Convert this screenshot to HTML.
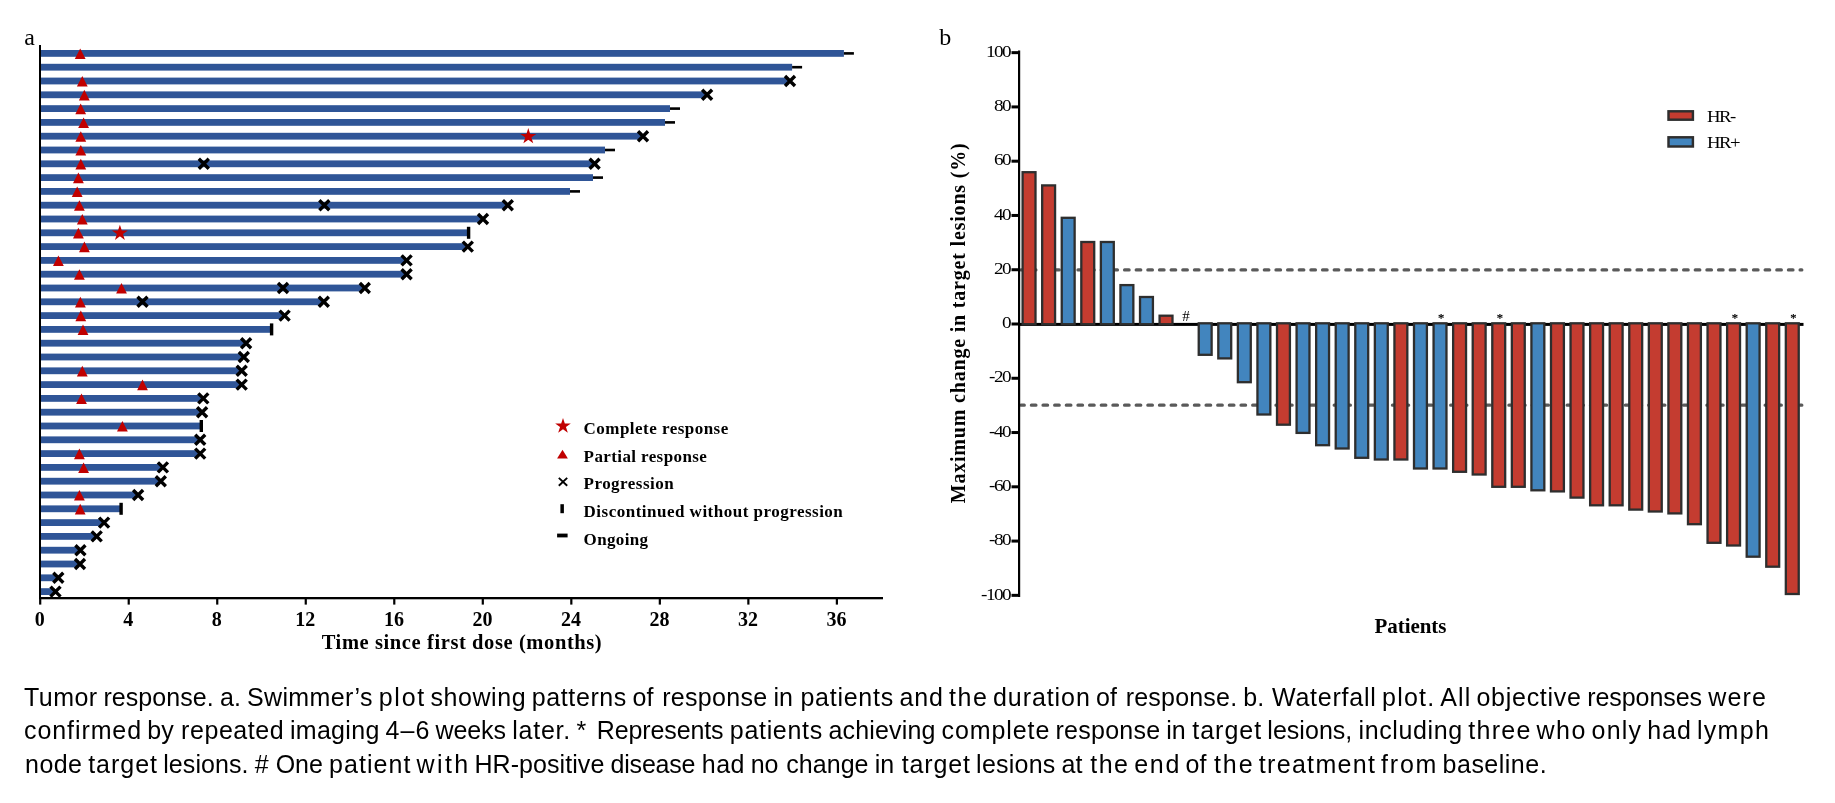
<!DOCTYPE html><html><head><meta charset="utf-8"><title>Tumor response</title><style>html,body{margin:0;padding:0;background:#fff}svg text{font-family:"Liberation Serif",serif}#cap text{font-family:"Liberation Sans",sans-serif}</style></head><body>
<svg width="1835" height="803" viewBox="0 0 1835 803" style="display:block;will-change:transform">
<g id="swim">
<rect x="40" y="50.00" width="803.90" height="6.8" fill="#2f5597"/>
<rect x="40" y="63.80" width="752.10" height="6.8" fill="#2f5597"/>
<rect x="40" y="77.60" width="749.00" height="6.8" fill="#2f5597"/>
<rect x="40" y="91.40" width="666.00" height="6.8" fill="#2f5597"/>
<rect x="40" y="105.20" width="630.00" height="6.8" fill="#2f5597"/>
<rect x="40" y="119.00" width="625.00" height="6.8" fill="#2f5597"/>
<rect x="40" y="132.80" width="602.00" height="6.8" fill="#2f5597"/>
<rect x="40" y="146.60" width="565.00" height="6.8" fill="#2f5597"/>
<rect x="40" y="160.40" width="553.50" height="6.8" fill="#2f5597"/>
<rect x="40" y="174.20" width="553.00" height="6.8" fill="#2f5597"/>
<rect x="40" y="188.00" width="530.00" height="6.8" fill="#2f5597"/>
<rect x="40" y="201.80" width="466.50" height="6.8" fill="#2f5597"/>
<rect x="40" y="215.60" width="442.00" height="6.8" fill="#2f5597"/>
<rect x="40" y="229.40" width="427.50" height="6.8" fill="#2f5597"/>
<rect x="40" y="243.20" width="426.50" height="6.8" fill="#2f5597"/>
<rect x="40" y="257.00" width="365.50" height="6.8" fill="#2f5597"/>
<rect x="40" y="270.80" width="365.50" height="6.8" fill="#2f5597"/>
<rect x="40" y="284.60" width="323.50" height="6.8" fill="#2f5597"/>
<rect x="40" y="298.40" width="282.50" height="6.8" fill="#2f5597"/>
<rect x="40" y="312.20" width="243.50" height="6.8" fill="#2f5597"/>
<rect x="40" y="326.00" width="230.50" height="6.8" fill="#2f5597"/>
<rect x="40" y="339.80" width="205.00" height="6.8" fill="#2f5597"/>
<rect x="40" y="353.60" width="202.50" height="6.8" fill="#2f5597"/>
<rect x="40" y="367.40" width="200.50" height="6.8" fill="#2f5597"/>
<rect x="40" y="381.20" width="200.50" height="6.8" fill="#2f5597"/>
<rect x="40" y="395.00" width="162.00" height="6.8" fill="#2f5597"/>
<rect x="40" y="408.80" width="161.00" height="6.8" fill="#2f5597"/>
<rect x="40" y="422.60" width="160.30" height="6.8" fill="#2f5597"/>
<rect x="40" y="436.40" width="159.00" height="6.8" fill="#2f5597"/>
<rect x="40" y="450.20" width="159.00" height="6.8" fill="#2f5597"/>
<rect x="40" y="464.00" width="121.80" height="6.8" fill="#2f5597"/>
<rect x="40" y="477.80" width="119.70" height="6.8" fill="#2f5597"/>
<rect x="40" y="491.60" width="97.00" height="6.8" fill="#2f5597"/>
<rect x="40" y="505.40" width="80.00" height="6.8" fill="#2f5597"/>
<rect x="40" y="519.20" width="63.00" height="6.8" fill="#2f5597"/>
<rect x="40" y="533.00" width="55.60" height="6.8" fill="#2f5597"/>
<rect x="40" y="546.80" width="39.30" height="6.8" fill="#2f5597"/>
<rect x="40" y="560.60" width="39.00" height="6.8" fill="#2f5597"/>
<rect x="40" y="574.40" width="17.20" height="6.8" fill="#2f5597"/>
<rect x="40" y="588.20" width="14.40" height="6.8" fill="#2f5597"/>
<rect x="843.90" y="52.10" width="10" height="2.6" fill="#000"/>
<path d="M74.80 59.00L80.20 48.40L85.60 59.00Z" fill="#c00000"/>
<rect x="792.10" y="65.90" width="10" height="2.6" fill="#000"/>
<path d="M76.90 86.60L82.30 76.00L87.70 86.60Z" fill="#c00000"/>
<path d="M785.00 76.00L795.00 86.00M785.00 86.00L795.00 76.00" stroke="#000" stroke-width="3.4" fill="none"/>
<path d="M78.90 100.40L84.30 89.80L89.70 100.40Z" fill="#c00000"/>
<path d="M702.10 89.80L712.10 99.80M702.10 99.80L712.10 89.80" stroke="#000" stroke-width="3.4" fill="none"/>
<rect x="670.00" y="107.30" width="10" height="2.6" fill="#000"/>
<path d="M75.30 114.20L80.70 103.60L86.10 114.20Z" fill="#c00000"/>
<rect x="665.00" y="121.10" width="10" height="2.6" fill="#000"/>
<path d="M78.20 128.00L83.60 117.40L89.00 128.00Z" fill="#c00000"/>
<path d="M75.40 141.80L80.80 131.20L86.20 141.80Z" fill="#c00000"/>
<polygon points="528.30,128.10 530.18,133.91 536.29,133.90 531.34,137.49 533.24,143.30 528.30,139.70 523.36,143.30 525.26,137.49 520.31,133.90 526.42,133.91" fill="#c00000"/>
<path d="M638.00 131.20L648.00 141.20M638.00 141.20L648.00 131.20" stroke="#000" stroke-width="3.4" fill="none"/>
<rect x="605.00" y="148.70" width="10" height="2.6" fill="#000"/>
<path d="M75.40 155.60L80.80 145.00L86.20 155.60Z" fill="#c00000"/>
<path d="M75.40 169.40L80.80 158.80L86.20 169.40Z" fill="#c00000"/>
<path d="M198.80 158.80L208.80 168.80M198.80 168.80L208.80 158.80" stroke="#000" stroke-width="3.4" fill="none"/>
<path d="M589.60 158.80L599.60 168.80M589.60 168.80L599.60 158.80" stroke="#000" stroke-width="3.4" fill="none"/>
<rect x="593.00" y="176.30" width="10" height="2.6" fill="#000"/>
<path d="M73.00 183.20L78.40 172.60L83.80 183.20Z" fill="#c00000"/>
<rect x="570.00" y="190.10" width="10" height="2.6" fill="#000"/>
<path d="M71.80 197.00L77.20 186.40L82.60 197.00Z" fill="#c00000"/>
<path d="M74.00 210.80L79.40 200.20L84.80 210.80Z" fill="#c00000"/>
<path d="M319.30 200.20L329.30 210.20M319.30 210.20L329.30 200.20" stroke="#000" stroke-width="3.4" fill="none"/>
<path d="M502.80 200.20L512.80 210.20M502.80 210.20L512.80 200.20" stroke="#000" stroke-width="3.4" fill="none"/>
<path d="M76.90 224.60L82.30 214.00L87.70 224.60Z" fill="#c00000"/>
<path d="M478.00 214.00L488.00 224.00M478.00 224.00L488.00 214.00" stroke="#000" stroke-width="3.4" fill="none"/>
<rect x="466.90" y="226.80" width="3.4" height="12" fill="#000"/>
<path d="M73.00 238.40L78.40 227.80L83.80 238.40Z" fill="#c00000"/>
<polygon points="119.90,224.70 121.78,230.51 127.89,230.50 122.94,234.09 124.84,239.90 119.90,236.30 114.96,239.90 116.86,234.09 111.91,230.50 118.02,230.51" fill="#c00000"/>
<path d="M79.00 252.20L84.40 241.60L89.80 252.20Z" fill="#c00000"/>
<path d="M462.80 241.60L472.80 251.60M462.80 251.60L472.80 241.60" stroke="#000" stroke-width="3.4" fill="none"/>
<path d="M53.00 266.00L58.40 255.40L63.80 266.00Z" fill="#c00000"/>
<path d="M401.60 255.40L411.60 265.40M401.60 265.40L411.60 255.40" stroke="#000" stroke-width="3.4" fill="none"/>
<path d="M74.00 279.80L79.40 269.20L84.80 279.80Z" fill="#c00000"/>
<path d="M401.60 269.20L411.60 279.20M401.60 279.20L411.60 269.20" stroke="#000" stroke-width="3.4" fill="none"/>
<path d="M116.10 293.60L121.50 283.00L126.90 293.60Z" fill="#c00000"/>
<path d="M278.00 283.00L288.00 293.00M278.00 293.00L288.00 283.00" stroke="#000" stroke-width="3.4" fill="none"/>
<path d="M359.80 283.00L369.80 293.00M359.80 293.00L369.80 283.00" stroke="#000" stroke-width="3.4" fill="none"/>
<path d="M75.00 307.40L80.40 296.80L85.80 307.40Z" fill="#c00000"/>
<path d="M137.50 296.80L147.50 306.80M137.50 306.80L147.50 296.80" stroke="#000" stroke-width="3.4" fill="none"/>
<path d="M318.80 296.80L328.80 306.80M318.80 306.80L328.80 296.80" stroke="#000" stroke-width="3.4" fill="none"/>
<path d="M75.40 321.20L80.80 310.60L86.20 321.20Z" fill="#c00000"/>
<path d="M279.60 310.60L289.60 320.60M279.60 320.60L289.60 310.60" stroke="#000" stroke-width="3.4" fill="none"/>
<rect x="269.90" y="323.40" width="3.4" height="12" fill="#000"/>
<path d="M77.60 335.00L83.00 324.40L88.40 335.00Z" fill="#c00000"/>
<path d="M241.10 338.20L251.10 348.20M241.10 348.20L251.10 338.20" stroke="#000" stroke-width="3.4" fill="none"/>
<path d="M238.80 352.00L248.80 362.00M238.80 362.00L248.80 352.00" stroke="#000" stroke-width="3.4" fill="none"/>
<path d="M76.90 376.40L82.30 365.80L87.70 376.40Z" fill="#c00000"/>
<path d="M236.70 365.80L246.70 375.80M236.70 375.80L246.70 365.80" stroke="#000" stroke-width="3.4" fill="none"/>
<path d="M137.10 390.20L142.50 379.60L147.90 390.20Z" fill="#c00000"/>
<path d="M236.70 379.60L246.70 389.60M236.70 389.60L246.70 379.60" stroke="#000" stroke-width="3.4" fill="none"/>
<path d="M76.10 404.00L81.50 393.40L86.90 404.00Z" fill="#c00000"/>
<path d="M198.30 393.40L208.30 403.40M198.30 403.40L208.30 393.40" stroke="#000" stroke-width="3.4" fill="none"/>
<path d="M197.10 407.20L207.10 417.20M197.10 417.20L207.10 407.20" stroke="#000" stroke-width="3.4" fill="none"/>
<rect x="199.60" y="420.00" width="3.4" height="12" fill="#000"/>
<path d="M117.00 431.60L122.40 421.00L127.80 431.60Z" fill="#c00000"/>
<path d="M195.20 434.80L205.20 444.80M195.20 444.80L205.20 434.80" stroke="#000" stroke-width="3.4" fill="none"/>
<path d="M74.00 459.20L79.40 448.60L84.80 459.20Z" fill="#c00000"/>
<path d="M195.20 448.60L205.20 458.60M195.20 458.60L205.20 448.60" stroke="#000" stroke-width="3.4" fill="none"/>
<path d="M78.20 473.00L83.60 462.40L89.00 473.00Z" fill="#c00000"/>
<path d="M157.90 462.40L167.90 472.40M157.90 472.40L167.90 462.40" stroke="#000" stroke-width="3.4" fill="none"/>
<path d="M155.80 476.20L165.80 486.20M155.80 486.20L165.80 476.20" stroke="#000" stroke-width="3.4" fill="none"/>
<path d="M74.00 500.60L79.40 490.00L84.80 500.60Z" fill="#c00000"/>
<path d="M133.10 490.00L143.10 500.00M133.10 500.00L143.10 490.00" stroke="#000" stroke-width="3.4" fill="none"/>
<rect x="119.40" y="502.80" width="3.4" height="12" fill="#000"/>
<path d="M74.80 514.40L80.20 503.80L85.60 514.40Z" fill="#c00000"/>
<path d="M99.10 517.60L109.10 527.60M99.10 527.60L109.10 517.60" stroke="#000" stroke-width="3.4" fill="none"/>
<path d="M91.70 531.40L101.70 541.40M91.70 541.40L101.70 531.40" stroke="#000" stroke-width="3.4" fill="none"/>
<path d="M75.40 545.20L85.40 555.20M75.40 555.20L85.40 545.20" stroke="#000" stroke-width="3.4" fill="none"/>
<path d="M75.00 559.00L85.00 569.00M75.00 569.00L85.00 559.00" stroke="#000" stroke-width="3.4" fill="none"/>
<path d="M53.30 572.80L63.30 582.80M53.30 582.80L63.30 572.80" stroke="#000" stroke-width="3.4" fill="none"/>
<path d="M50.50 586.60L60.50 596.60M50.50 596.60L60.50 586.60" stroke="#000" stroke-width="3.4" fill="none"/>
<rect x="39" y="45" width="2" height="554" fill="#000"/>
<rect x="39" y="597" width="844" height="2.3" fill="#000"/>
<rect x="39.10" y="597" width="2.2" height="7.6" fill="#000"/>
<text x="39.80" y="626.4" text-anchor="middle" font-family="Liberation Serif" font-weight="bold" font-size="20">0</text>
<rect x="127.62" y="597" width="2.2" height="7.6" fill="#000"/>
<text x="128.32" y="626.4" text-anchor="middle" font-family="Liberation Serif" font-weight="bold" font-size="20">4</text>
<rect x="216.14" y="597" width="2.2" height="7.6" fill="#000"/>
<text x="216.84" y="626.4" text-anchor="middle" font-family="Liberation Serif" font-weight="bold" font-size="20">8</text>
<rect x="304.66" y="597" width="2.2" height="7.6" fill="#000"/>
<text x="305.36" y="626.4" text-anchor="middle" font-family="Liberation Serif" font-weight="bold" font-size="20">12</text>
<rect x="393.18" y="597" width="2.2" height="7.6" fill="#000"/>
<text x="393.88" y="626.4" text-anchor="middle" font-family="Liberation Serif" font-weight="bold" font-size="20">16</text>
<rect x="481.70" y="597" width="2.2" height="7.6" fill="#000"/>
<text x="482.40" y="626.4" text-anchor="middle" font-family="Liberation Serif" font-weight="bold" font-size="20">20</text>
<rect x="570.22" y="597" width="2.2" height="7.6" fill="#000"/>
<text x="570.92" y="626.4" text-anchor="middle" font-family="Liberation Serif" font-weight="bold" font-size="20">24</text>
<rect x="658.74" y="597" width="2.2" height="7.6" fill="#000"/>
<text x="659.44" y="626.4" text-anchor="middle" font-family="Liberation Serif" font-weight="bold" font-size="20">28</text>
<rect x="747.26" y="597" width="2.2" height="7.6" fill="#000"/>
<text x="747.96" y="626.4" text-anchor="middle" font-family="Liberation Serif" font-weight="bold" font-size="20">32</text>
<rect x="835.78" y="597" width="2.2" height="7.6" fill="#000"/>
<text x="836.48" y="626.4" text-anchor="middle" font-family="Liberation Serif" font-weight="bold" font-size="20">36</text>
<text x="321.7" y="648.9" font-family="Liberation Serif" font-weight="bold" font-size="20.5" textLength="280" lengthAdjust="spacing">Time since first dose (months)</text>
<text x="24.3" y="44.9" font-family="Liberation Serif" font-size="24">a</text>
<polygon points="563.00,417.90 564.82,423.59 570.80,423.57 565.95,427.06 567.82,432.73 563.00,429.20 558.18,432.73 560.05,427.06 555.20,423.57 561.18,423.59" fill="#c00000"/>
<path d="M557.10 458.60L562.50 449.80L567.90 458.60Z" fill="#c00000"/>
<path d="M558.8 477.9L567.2 485.7M558.8 485.7L567.2 477.9" stroke="#000" stroke-width="1.9" fill="none"/>
<rect x="560.4" y="504.2" width="3.5" height="9" fill="#000"/>
<rect x="557.1" y="533.6" width="10.5" height="3.8" fill="#000"/>
<text x="583.6" y="433.5" font-family="Liberation Serif" font-weight="bold" font-size="17" textLength="144.6" lengthAdjust="spacing">Complete response</text>
<text x="583.6" y="462.2" font-family="Liberation Serif" font-weight="bold" font-size="17" textLength="123.2" lengthAdjust="spacing">Partial response</text>
<text x="583.6" y="488.8" font-family="Liberation Serif" font-weight="bold" font-size="17" textLength="90" lengthAdjust="spacing">Progression</text>
<text x="583.6" y="517.1" font-family="Liberation Serif" font-weight="bold" font-size="17" textLength="259.2" lengthAdjust="spacing">Discontinued without progression</text>
<text x="583.6" y="544.7" font-family="Liberation Serif" font-weight="bold" font-size="17" textLength="64.4" lengthAdjust="spacing">Ongoing</text>
</g>
<g id="wf">
<line x1="1021" y1="269.9" x2="1801.8" y2="269.9" stroke="#5a5a5a" stroke-width="3.3" stroke-linecap="round" stroke-dasharray="4.5 7.147" stroke-dashoffset="1.24"/>
<line x1="1021" y1="405.2" x2="1801.8" y2="405.2" stroke="#5a5a5a" stroke-width="3.3" stroke-linecap="round" stroke-dasharray="4.5 7.147" stroke-dashoffset="1.24"/>
<rect x="1018" y="322.9" width="785.5" height="3" fill="#000"/>
<rect x="1022.60" y="172.20" width="12.90" height="152.00" fill="#c43c30" stroke="#2e2e2e" stroke-width="2.3"/>
<rect x="1042.17" y="185.40" width="12.90" height="138.80" fill="#c43c30" stroke="#2e2e2e" stroke-width="2.3"/>
<rect x="1061.74" y="217.80" width="12.90" height="106.40" fill="#4285be" stroke="#2e2e2e" stroke-width="2.3"/>
<rect x="1081.31" y="242.00" width="12.90" height="82.20" fill="#c43c30" stroke="#2e2e2e" stroke-width="2.3"/>
<rect x="1100.88" y="242.00" width="12.90" height="82.20" fill="#4285be" stroke="#2e2e2e" stroke-width="2.3"/>
<rect x="1120.45" y="285.10" width="12.90" height="39.10" fill="#4285be" stroke="#2e2e2e" stroke-width="2.3"/>
<rect x="1140.02" y="297.00" width="12.90" height="27.20" fill="#4285be" stroke="#2e2e2e" stroke-width="2.3"/>
<rect x="1159.59" y="315.70" width="12.90" height="8.50" fill="#c43c30" stroke="#2e2e2e" stroke-width="2.3"/>
<rect x="1198.73" y="323.30" width="12.90" height="31.50" fill="#4285be" stroke="#2e2e2e" stroke-width="2.3"/>
<rect x="1218.30" y="323.30" width="12.90" height="35.10" fill="#4285be" stroke="#2e2e2e" stroke-width="2.3"/>
<rect x="1237.87" y="323.30" width="12.90" height="58.90" fill="#4285be" stroke="#2e2e2e" stroke-width="2.3"/>
<rect x="1257.44" y="323.30" width="12.90" height="91.20" fill="#4285be" stroke="#2e2e2e" stroke-width="2.3"/>
<rect x="1277.01" y="323.30" width="12.90" height="101.40" fill="#c43c30" stroke="#2e2e2e" stroke-width="2.3"/>
<rect x="1296.58" y="323.30" width="12.90" height="109.60" fill="#4285be" stroke="#2e2e2e" stroke-width="2.3"/>
<rect x="1316.15" y="323.30" width="12.90" height="121.90" fill="#4285be" stroke="#2e2e2e" stroke-width="2.3"/>
<rect x="1335.72" y="323.30" width="12.90" height="125.20" fill="#4285be" stroke="#2e2e2e" stroke-width="2.3"/>
<rect x="1355.29" y="323.30" width="12.90" height="134.50" fill="#4285be" stroke="#2e2e2e" stroke-width="2.3"/>
<rect x="1374.86" y="323.30" width="12.90" height="136.20" fill="#4285be" stroke="#2e2e2e" stroke-width="2.3"/>
<rect x="1394.43" y="323.30" width="12.90" height="136.20" fill="#c43c30" stroke="#2e2e2e" stroke-width="2.3"/>
<rect x="1414.00" y="323.30" width="12.90" height="145.20" fill="#4285be" stroke="#2e2e2e" stroke-width="2.3"/>
<rect x="1433.57" y="323.30" width="12.90" height="145.20" fill="#4285be" stroke="#2e2e2e" stroke-width="2.3"/>
<rect x="1453.14" y="323.30" width="12.90" height="148.50" fill="#c43c30" stroke="#2e2e2e" stroke-width="2.3"/>
<rect x="1472.71" y="323.30" width="12.90" height="151.20" fill="#c43c30" stroke="#2e2e2e" stroke-width="2.3"/>
<rect x="1492.28" y="323.30" width="12.90" height="163.50" fill="#c43c30" stroke="#2e2e2e" stroke-width="2.3"/>
<rect x="1511.85" y="323.30" width="12.90" height="163.50" fill="#c43c30" stroke="#2e2e2e" stroke-width="2.3"/>
<rect x="1531.42" y="323.30" width="12.90" height="167.00" fill="#4285be" stroke="#2e2e2e" stroke-width="2.3"/>
<rect x="1550.99" y="323.30" width="12.90" height="168.10" fill="#c43c30" stroke="#2e2e2e" stroke-width="2.3"/>
<rect x="1570.56" y="323.30" width="12.90" height="174.30" fill="#c43c30" stroke="#2e2e2e" stroke-width="2.3"/>
<rect x="1590.13" y="323.30" width="12.90" height="182.00" fill="#c43c30" stroke="#2e2e2e" stroke-width="2.3"/>
<rect x="1609.70" y="323.30" width="12.90" height="182.00" fill="#c43c30" stroke="#2e2e2e" stroke-width="2.3"/>
<rect x="1629.27" y="323.30" width="12.90" height="186.30" fill="#c43c30" stroke="#2e2e2e" stroke-width="2.3"/>
<rect x="1648.84" y="323.30" width="12.90" height="188.20" fill="#c43c30" stroke="#2e2e2e" stroke-width="2.3"/>
<rect x="1668.41" y="323.30" width="12.90" height="190.10" fill="#c43c30" stroke="#2e2e2e" stroke-width="2.3"/>
<rect x="1687.98" y="323.30" width="12.90" height="200.90" fill="#c43c30" stroke="#2e2e2e" stroke-width="2.3"/>
<rect x="1707.55" y="323.30" width="12.90" height="219.50" fill="#c43c30" stroke="#2e2e2e" stroke-width="2.3"/>
<rect x="1727.12" y="323.30" width="12.90" height="222.20" fill="#c43c30" stroke="#2e2e2e" stroke-width="2.3"/>
<rect x="1746.69" y="323.30" width="12.90" height="233.40" fill="#4285be" stroke="#2e2e2e" stroke-width="2.3"/>
<rect x="1766.26" y="323.30" width="12.90" height="243.40" fill="#c43c30" stroke="#2e2e2e" stroke-width="2.3"/>
<rect x="1785.83" y="323.30" width="12.90" height="270.70" fill="#c43c30" stroke="#2e2e2e" stroke-width="2.3"/>
<rect x="1018" y="50.5" width="2.2" height="546.5" fill="#000"/>
<rect x="1011.5" y="51.15" width="7" height="3" fill="#000"/>
<text transform="translate(1010.0 56.85) scale(1.2 1)" text-anchor="end" font-family="Liberation Serif" font-size="16" letter-spacing="-1.3">100</text>
<rect x="1011.5" y="105.42" width="7" height="3" fill="#000"/>
<text transform="translate(1010.0 111.12) scale(1.2 1)" text-anchor="end" font-family="Liberation Serif" font-size="16" letter-spacing="-1.3">80</text>
<rect x="1011.5" y="159.69" width="7" height="3" fill="#000"/>
<text transform="translate(1010.0 165.39) scale(1.2 1)" text-anchor="end" font-family="Liberation Serif" font-size="16" letter-spacing="-1.3">60</text>
<rect x="1011.5" y="213.96" width="7" height="3" fill="#000"/>
<text transform="translate(1010.0 219.66) scale(1.2 1)" text-anchor="end" font-family="Liberation Serif" font-size="16" letter-spacing="-1.3">40</text>
<rect x="1011.5" y="268.23" width="7" height="3" fill="#000"/>
<text transform="translate(1010.0 273.93) scale(1.2 1)" text-anchor="end" font-family="Liberation Serif" font-size="16" letter-spacing="-1.3">20</text>
<rect x="1011.5" y="322.50" width="7" height="3" fill="#000"/>
<text transform="translate(1010.0 328.20) scale(1.2 1)" text-anchor="end" font-family="Liberation Serif" font-size="16" letter-spacing="-1.3">0</text>
<rect x="1011.5" y="376.77" width="7" height="3" fill="#000"/>
<text transform="translate(1010.0 382.47) scale(1.2 1)" text-anchor="end" font-family="Liberation Serif" font-size="16" letter-spacing="-1.3">-20</text>
<rect x="1011.5" y="431.04" width="7" height="3" fill="#000"/>
<text transform="translate(1010.0 436.74) scale(1.2 1)" text-anchor="end" font-family="Liberation Serif" font-size="16" letter-spacing="-1.3">-40</text>
<rect x="1011.5" y="485.31" width="7" height="3" fill="#000"/>
<text transform="translate(1010.0 491.01) scale(1.2 1)" text-anchor="end" font-family="Liberation Serif" font-size="16" letter-spacing="-1.3">-60</text>
<rect x="1011.5" y="539.58" width="7" height="3" fill="#000"/>
<text transform="translate(1010.0 545.28) scale(1.2 1)" text-anchor="end" font-family="Liberation Serif" font-size="16" letter-spacing="-1.3">-80</text>
<rect x="1011.5" y="593.85" width="7" height="3" fill="#000"/>
<text transform="translate(1010.0 599.55) scale(1.2 1)" text-anchor="end" font-family="Liberation Serif" font-size="16" letter-spacing="-1.3">-100</text>
<text transform="translate(965.3 503.3) rotate(-90)" font-family="Liberation Serif" font-weight="bold" font-size="20" textLength="360" lengthAdjust="spacing">Maximum change in target lesions (%)</text>
<text x="1374.5" y="633.4" font-family="Liberation Serif" font-weight="bold" font-size="21" textLength="72" lengthAdjust="spacing">Patients</text>
<text x="939.2" y="44.7" font-family="Liberation Serif" font-size="24">b</text>
<text x="1186" y="321.3" text-anchor="middle" font-family="Liberation Serif" font-size="15">#</text>
<text x="1441.22" y="322.3" text-anchor="middle" font-family="Liberation Serif" font-size="12.5" stroke="#000" stroke-width="0.25">*</text>
<text x="1499.93" y="322.3" text-anchor="middle" font-family="Liberation Serif" font-size="12.5" stroke="#000" stroke-width="0.25">*</text>
<text x="1734.77" y="322.3" text-anchor="middle" font-family="Liberation Serif" font-size="12.5" stroke="#000" stroke-width="0.25">*</text>
<text x="1793.48" y="322.3" text-anchor="middle" font-family="Liberation Serif" font-size="12.5" stroke="#000" stroke-width="0.25">*</text>
<rect x="1668.5" y="111.3" width="24.4" height="8.4" fill="#c43c30" stroke="#2e2e2e" stroke-width="2.45"/>
<rect x="1668.5" y="137.3" width="24.4" height="9.2" fill="#4285be" stroke="#2e2e2e" stroke-width="2.45"/>
<text transform="translate(1706.9 121.9) scale(1.15 1)" font-family="Liberation Serif" font-size="16.3" letter-spacing="-1.25">HR-</text>
<text transform="translate(1706.9 147.8) scale(1.15 1)" font-family="Liberation Serif" font-size="16.3" letter-spacing="-1.25">HR+</text>
</g>
<g id="cap" font-family="Liberation Sans" font-size="25" fill="#000">
<text x="24.0" y="705.7" textLength="73.2" lengthAdjust="spacing">Tumor</text>
<text x="103.4" y="705.7" textLength="110.4" lengthAdjust="spacing">response.</text>
<text x="220.0" y="705.7">a.</text>
<text x="247.0" y="705.7" textLength="125.5" lengthAdjust="spacing">Swimmer’s</text>
<text x="378.7" y="705.7" textLength="45.6" lengthAdjust="spacing">plot</text>
<text x="430.5" y="705.7" textLength="95.1" lengthAdjust="spacing">showing</text>
<text x="531.8" y="705.7" textLength="94.5" lengthAdjust="spacing">patterns</text>
<text x="632.5" y="705.7">of</text>
<text x="662.2" y="705.7" textLength="105.0" lengthAdjust="spacing">response</text>
<text x="773.4" y="705.7">in</text>
<text x="800.4" y="705.7" textLength="92.8" lengthAdjust="spacing">patients</text>
<text x="899.4" y="705.7" textLength="43.4" lengthAdjust="spacing">and</text>
<text x="949.0" y="705.7" textLength="37.8" lengthAdjust="spacing">the</text>
<text x="993.0" y="705.7" textLength="96.8" lengthAdjust="spacing">duration</text>
<text x="1096.0" y="705.7">of</text>
<text x="1125.7" y="705.7" textLength="111.4" lengthAdjust="spacing">response.</text>
<text x="1243.3" y="705.7">b.</text>
<text x="1272.0" y="705.7" textLength="103.9" lengthAdjust="spacing">Waterfall</text>
<text x="1382.1" y="705.7" textLength="52.0" lengthAdjust="spacing">plot.</text>
<text x="1440.3" y="705.7" textLength="29.9" lengthAdjust="spacing">All</text>
<text x="1476.4" y="705.7" textLength="104.6" lengthAdjust="spacing">objective</text>
<text x="1587.2" y="705.7" textLength="114.8" lengthAdjust="spacing">responses</text>
<text x="1708.2" y="705.7" textLength="57.8" lengthAdjust="spacing">were</text>
<text x="24.0" y="739.2" textLength="117.1" lengthAdjust="spacing">confirmed</text>
<text x="147.3" y="739.2">by</text>
<text x="181.1" y="739.2" textLength="102.6" lengthAdjust="spacing">repeated</text>
<text x="289.9" y="739.2" textLength="89.4" lengthAdjust="spacing">imaging</text>
<text x="385.5" y="739.2" textLength="43.8" lengthAdjust="spacing">4–6</text>
<text x="435.5" y="739.2" textLength="70.5" lengthAdjust="spacing">weeks</text>
<text x="512.2" y="739.2" textLength="58.0" lengthAdjust="spacing">later.</text>
<text x="576.4" y="739.2">*</text>
<text x="596.7" y="739.2" textLength="126.9" lengthAdjust="spacing">Represents</text>
<text x="729.8" y="739.2" textLength="92.4" lengthAdjust="spacing">patients</text>
<text x="828.4" y="739.2" textLength="107.0" lengthAdjust="spacing">achieving</text>
<text x="941.6" y="739.2" textLength="107.7" lengthAdjust="spacing">complete</text>
<text x="1055.5" y="739.2" textLength="104.6" lengthAdjust="spacing">response</text>
<text x="1166.3" y="739.2">in</text>
<text x="1192.3" y="739.2" textLength="68.8" lengthAdjust="spacing">target</text>
<text x="1267.3" y="739.2" textLength="85.0" lengthAdjust="spacing">lesions,</text>
<text x="1358.5" y="739.2" textLength="103.6" lengthAdjust="spacing">including</text>
<text x="1468.3" y="739.2" textLength="62.0" lengthAdjust="spacing">three</text>
<text x="1536.5" y="739.2" textLength="48.9" lengthAdjust="spacing">who</text>
<text x="1591.6" y="739.2" textLength="49.5" lengthAdjust="spacing">only</text>
<text x="1647.3" y="739.2" textLength="43.5" lengthAdjust="spacing">had</text>
<text x="1697.0" y="739.2" textLength="71.8" lengthAdjust="spacing">lymph</text>
<text x="25.1" y="772.5" textLength="56.9" lengthAdjust="spacing">node</text>
<text x="88.2" y="772.5" textLength="68.8" lengthAdjust="spacing">target</text>
<text x="163.2" y="772.5" textLength="85.3" lengthAdjust="spacing">lesions.</text>
<text x="254.7" y="772.5">#</text>
<text x="275.7" y="772.5" textLength="47.2" lengthAdjust="spacing">One</text>
<text x="329.1" y="772.5" textLength="81.3" lengthAdjust="spacing">patient</text>
<text x="416.6" y="772.5" textLength="51.6" lengthAdjust="spacing">with</text>
<text x="474.4" y="772.5" textLength="129.9" lengthAdjust="spacing">HR-positive</text>
<text x="610.5" y="772.5" textLength="85.0" lengthAdjust="spacing">disease</text>
<text x="701.7" y="772.5" textLength="42.8" lengthAdjust="spacing">had</text>
<text x="750.7" y="772.5">no</text>
<text x="786.2" y="772.5" textLength="82.3" lengthAdjust="spacing">change</text>
<text x="874.7" y="772.5">in</text>
<text x="901.7" y="772.5" textLength="68.2" lengthAdjust="spacing">target</text>
<text x="976.1" y="772.5" textLength="79.2" lengthAdjust="spacing">lesions</text>
<text x="1061.5" y="772.5">at</text>
<text x="1090.3" y="772.5" textLength="37.7" lengthAdjust="spacing">the</text>
<text x="1134.2" y="772.5" textLength="45.1" lengthAdjust="spacing">end</text>
<text x="1185.5" y="772.5">of</text>
<text x="1213.9" y="772.5" textLength="38.7" lengthAdjust="spacing">the</text>
<text x="1258.8" y="772.5" textLength="116.1" lengthAdjust="spacing">treatment</text>
<text x="1381.1" y="772.5" textLength="55.3" lengthAdjust="spacing">from</text>
<text x="1442.6" y="772.5" textLength="104.0" lengthAdjust="spacing">baseline.</text>
</g>
</svg>
</body></html>
